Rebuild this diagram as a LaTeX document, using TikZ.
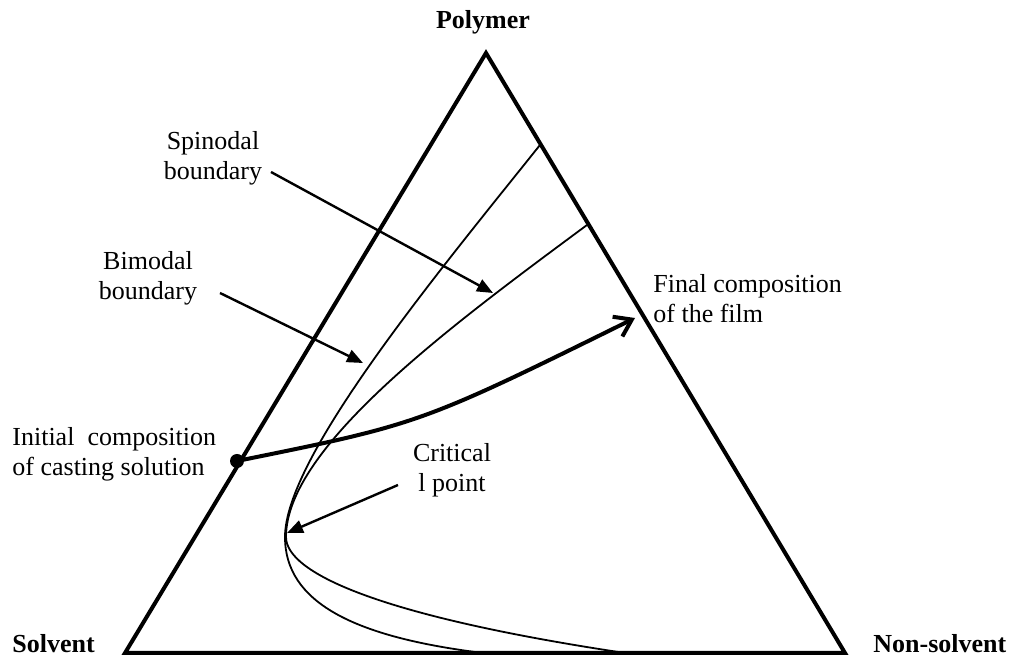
\documentclass[tikz,border=0pt]{standalone}
\usepackage{fontspec}
\setmainfont{Liberation Serif}
\usetikzlibrary{arrows.meta}
\begin{document}
\begin{tikzpicture}[x=0.5pt,y=-0.5pt,
  lbl/.style={inner sep=0pt, font=\fontsize{13}{15}\selectfont},
  cornerlbl/.style={inner sep=0pt, font=\fontsize{13}{15}\selectfont\bfseries},
  edge/.style={line width=2pt, line join=miter},
  thincurve/.style={line width=0.9pt},
  pointer/.style={line width=1.2pt, -{Triangle[length=8pt,width=6.5pt]}},
  route/.style={line width=2pt, -{Straight Barb[length=8pt,width=11pt,line width=2pt]}},
  dotnode/.style={circle, fill=black, inner sep=0pt, minimum size=7pt}
]
\useasboundingbox (0,0) rectangle (1012,656);

% triangle corners
\coordinate (P) at (486,53);
\coordinate (S) at (125,653);
\coordinate (N) at (845,653);
\draw[edge] (S) -- (P) -- (N) -- cycle;

% corner labels
\node[cornerlbl, anchor=base] (poly) at (483,29) {Polymer};
\node[cornerlbl, anchor=base west] (solv) at (12,653) {Solvent};
\node[cornerlbl, anchor=base west] (nons) at (873,653) {Non-solvent};

% bimodal (outer) boundary
\coordinate (bimTop) at (540,145);
\coordinate (bimNose) at (285,537);
\coordinate (bimBot) at (483,653);
\draw[thincurve] (bimTop) .. controls (436,275) and (285,457) .. (bimNose)
                 .. controls (285,602) and (353,637) .. (bimBot);

% spinodal (inner) boundary
\coordinate (spiTop) at (587,225);
\coordinate (spiNose) at (286,537);
\coordinate (spiBot) at (625,653);
\draw[thincurve] (spiTop) .. controls (452,325) and (286,447) .. (spiNose)
                 .. controls (286,572) and (375,615.5) .. (spiBot);

% labels
\node[lbl, anchor=base, align=center] (spin) at (213,180) {Spinodal\\boundary};
\node[lbl, anchor=base, align=center] (bimo) at (148,300) {Bimodal\\boundary};
\node[lbl, anchor=base west, align=left] (init) at (12,476) {Initial\ \ composition\\of casting solution};
\node[lbl, anchor=base, align=center] (crit) at (452,492) {Critical\\l point};
\node[lbl, anchor=base west, align=left] (final) at (653,323) {Final composition\\of the film};

% pointer coordinates
\coordinate (spinT) at (271,172);
\coordinate (spinH) at (493,293);
\coordinate (bimoT) at (220,293);
\coordinate (bimoH) at (363,363);
\coordinate (critT) at (398,485);
\coordinate (critH) at (287,533);
\coordinate (finalH) at (635,318);

\draw[pointer] (spinT) -- (spinH);
\draw[pointer] (bimoT) -- (bimoH);
\draw[pointer] (critT) -- (critH);

% composition path
\node[dotnode] (start) at (237,461) {};
\draw[route] (start.center) .. controls (420,424) .. (finalH);
\end{tikzpicture}
\end{document}
